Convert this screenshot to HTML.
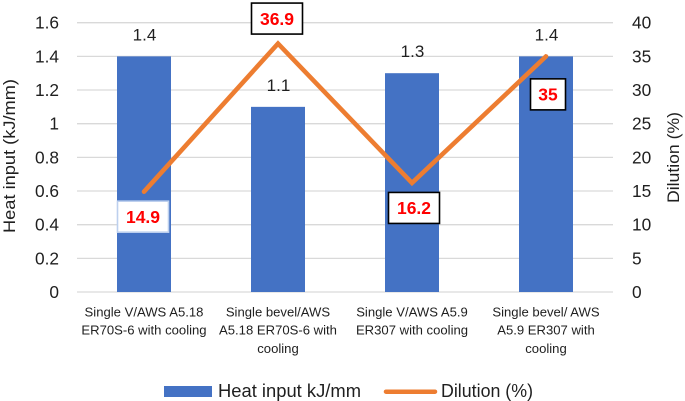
<!DOCTYPE html>
<html lang="en">
<head>
<meta charset="utf-8">
<title>Heat input and dilution chart</title>
<style>
html,body{margin:0;padding:0;background:#fff;width:685px;height:401px;overflow:hidden}
svg{display:block;font-family:"Liberation Sans",sans-serif;fill:#1f1f1f;filter:blur(0.3px)}
</style>
</head>
<body>
<svg id="chart" xmlns="http://www.w3.org/2000/svg" width="685" height="401" viewBox="0 0 685 401">
  <g id="grid"></g>
  <g id="bars"></g>
  <g id="line"></g>
  <g id="leftTicks"></g>
  <g id="rightTicks"></g>
  <g id="cats"></g>
  <g id="barLabels"></g>
  <g id="lineLabels"></g>
  <text transform="translate(15 233) rotate(-90)" font-size="16.5" textLength="154" lengthAdjust="spacingAndGlyphs">Heat input (kJ/mm)</text>
  <text transform="translate(679 203) rotate(-90)" font-size="16.5" textLength="91" lengthAdjust="spacingAndGlyphs">Dilution (%)</text>
  <g>
    <rect x="164" y="386" width="48" height="11" fill="#4472C4"/>
    <text x="218" y="397" font-size="18" textLength="143" lengthAdjust="spacingAndGlyphs">Heat input kJ/mm</text>
    <line x1="386" y1="391.7" x2="435" y2="391.7" stroke="#ED7D31" stroke-width="4.5" stroke-linecap="round"/>
    <text x="441" y="397" font-size="18" textLength="92" lengthAdjust="spacingAndGlyphs">Dilution (%)</text>
  </g>
</svg>
<script>
const categories = [
  ["Single V/AWS A5.18", "ER70S-6 with cooling"],
  ["Single bevel/AWS", "A5.18 ER70S-6 with", "cooling"],
  ["Single V/AWS A5.9", "ER307 with cooling"],
  ["Single bevel/ AWS", "A5.9 ER307 with", "cooling"]
];
const heatInput = [1.4, 1.1, 1.3, 1.4];
const dilution = [14.9, 36.9, 16.2, 35];
const leftTickValues = [0, 0.2, 0.4, 0.6, 0.8, 1, 1.2, 1.4, 1.6];
const rightTickValues = [0, 5, 10, 15, 20, 25, 30, 35, 40];

const NS = "http://www.w3.org/2000/svg";
const plot = { left: 77, right: 613, top: 22.7, bottom: 292 };
const leftMax = 1.6;
const rightMax = 40;
const barWidth = 54;

const xCenter = i => plot.left + (plot.right - plot.left) * (i + 0.5) / categories.length;
const yLeft = v => plot.bottom - (v / leftMax) * (plot.bottom - plot.top);
const yRight = v => plot.bottom - (v / rightMax) * (plot.bottom - plot.top);

function make(parentId, tag, attrs, text) {
  const el = document.createElementNS(NS, tag);
  for (const k in attrs) el.setAttribute(k, attrs[k]);
  if (text !== undefined) el.textContent = text;
  document.getElementById(parentId).appendChild(el);
  return el;
}

leftTickValues.forEach(v => {
  const y = yLeft(v);
  const g = make("grid", "line", { x1: plot.left, x2: plot.right, y1: y, y2: y, stroke: "#D9D9D9", "stroke-width": 1.3 });
  
  
  const t = make("leftTicks", "text", { x: 59, y: y + 6, "text-anchor": "end", "font-size": 17.3 }, String(v));
  
  
});

rightTickValues.forEach(v => {
  const t = make("rightTicks", "text", { x: 632, y: yRight(v) + 6, "font-size": 17.3 }, String(v));
  
  
});

heatInput.forEach((v, i) => {
  const cx = xCenter(i);
  const y = yLeft(v);
  const b = make("bars", "rect", { x: cx - barWidth / 2, y: y, width: barWidth, height: plot.bottom - y, fill: "#4472C4" });
  
  
  const t = make("barLabels", "text", { x: cx + 0.5, y: y - 16, "text-anchor": "middle", "font-size": 17 }, String(v));
  
  
});

const pts = dilution.map((v, i) => xCenter(i) + "," + yRight(v)).join(" ");
const poly = make("line", "polyline", { points: pts, fill: "none", stroke: "#ED7D31", "stroke-width": 4.6, "stroke-linecap": "round", "stroke-linejoin": "miter" });



const calloutStyle = [
  { dx: -1, dy: 25, w: 51, border: "#BDD0EE" },
  { dx: -1, dy: -25, w: 51, border: "#000000" },
  { dx: 2, dy: 25, w: 51, border: "#000000" },
  { dx: 2, dy: 38, w: 35, border: "#000000" }
];

dilution.forEach((v, i) => {
  const s = calloutStyle[i];
  const cx = xCenter(i) + s.dx;
  const cy = yRight(v) + s.dy;
  const r = make("lineLabels", "rect", { x: cx - s.w / 2, y: cy - 15.5, width: s.w, height: 31, fill: "#FFFFFF", stroke: s.border, "stroke-width": 1.6 });
  
  
  const t = make("lineLabels", "text", { x: cx, y: cy + 6.3, "text-anchor": "middle", "font-size": 17.5, "font-weight": "bold", fill: "#FF0000" }, String(v));
  
  
});

categories.forEach((lines, i) => {
  lines.forEach((line, j) => {
    const t = make("cats", "text", { x: xCenter(i), y: 316.5 + j * 18.2, "text-anchor": "middle", "font-size": 13.1 }, line);
    
    
  });
});
</script>
</body>
</html>
